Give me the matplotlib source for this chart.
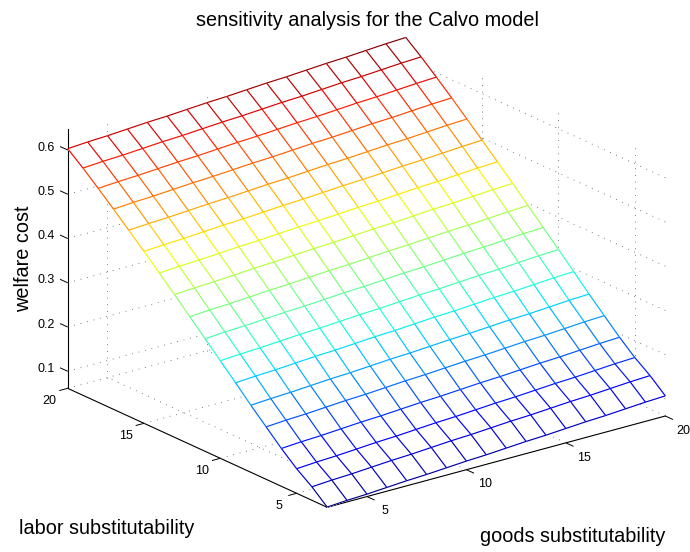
import numpy as np
import matplotlib
matplotlib.use("Agg")
import matplotlib.pyplot as plt
from mpl_toolkits.mplot3d import proj3d
from mpl_toolkits.mplot3d.art3d import Line3DCollection

plt.rcParams['font.family'] = ['Liberation Sans', 'DejaVu Sans']

goods = np.arange(3, 21)
labor = np.arange(3, 21)

# welfare cost x 1000, rows go with labor 3..20, columns with goods 3..20
welfare_milli = [
    [62, 65, 67, 70, 73, 75, 78, 81, 83, 86, 89, 91, 94, 97, 99, 102, 105, 107],
    [92, 95, 97, 100, 103, 105, 108, 111, 113, 116, 119, 121, 124, 127, 129, 132, 135, 137],
    [117, 120, 122, 125, 128, 130, 133, 136, 138, 141, 144, 146, 149, 152, 154, 157, 160, 162],
    [147, 150, 152, 155, 158, 160, 163, 166, 168, 171, 174, 176, 179, 182, 184, 187, 190, 192],
    [180, 183, 185, 188, 191, 193, 196, 199, 201, 204, 207, 209, 212, 215, 217, 220, 223, 225],
    [213, 216, 218, 221, 224, 226, 229, 232, 234, 237, 240, 242, 245, 248, 250, 253, 256, 258],
    [248, 251, 253, 256, 259, 261, 264, 267, 269, 272, 275, 277, 280, 283, 285, 288, 291, 293],
    [282, 285, 287, 290, 293, 295, 298, 301, 303, 306, 309, 311, 314, 317, 319, 322, 325, 327],
    [316, 319, 321, 324, 327, 329, 332, 335, 337, 340, 343, 345, 348, 351, 353, 356, 359, 361],
    [350, 353, 355, 358, 361, 363, 366, 369, 371, 374, 377, 379, 382, 385, 387, 390, 393, 395],
    [384, 387, 389, 392, 395, 397, 400, 403, 405, 408, 411, 413, 416, 419, 421, 424, 427, 429],
    [417, 420, 422, 425, 428, 430, 433, 436, 438, 441, 444, 446, 449, 452, 454, 457, 460, 462],
    [450, 453, 455, 458, 461, 463, 466, 469, 471, 474, 477, 479, 482, 485, 487, 490, 493, 495],
    [482, 485, 487, 490, 493, 495, 498, 501, 503, 506, 509, 511, 514, 517, 519, 522, 525, 527],
    [514, 517, 519, 522, 525, 527, 530, 533, 535, 538, 541, 543, 546, 549, 551, 554, 557, 559],
    [545, 548, 550, 553, 556, 558, 561, 564, 566, 569, 572, 574, 577, 580, 582, 585, 588, 590],
    [575, 578, 580, 583, 586, 588, 591, 594, 596, 599, 602, 604, 607, 610, 612, 615, 618, 620],
    [603, 606, 608, 611, 614, 616, 619, 622, 624, 627, 630, 632, 635, 638, 640, 643, 646, 648],
]

xy_ticks = [5, 10, 15, 20]
z_ticks = [0.1, 0.2, 0.3, 0.4, 0.5, 0.6]

X, Y = np.meshgrid(goods, labor)
Z = np.array(welfare_milli) / 1000.0
z_floor, z_top = 0.0615, 0.6475

fig = plt.figure(figsize=(6.9, 5.52), dpi=100)
ax = fig.add_axes([35.8 / 690, -51.2 / 552, 644 / 690, 644 / 552],
                  projection='3d', proj_type='ortho', computed_zorder=False)
ax.patch.set_alpha(0)
ax.set_box_aspect((1, 1, 0.65))
ax.view_init(elev=20.6, azim=-127.5)

# matlab style box: dotted grid on floor and the two back walls, drawn by hand
grid_segs = []
tick_segs = []
for t in xy_ticks:
    grid_segs.append([(t, 3, z_floor), (t, 20, z_floor)])
    grid_segs.append([(t, 20, z_floor), (t, 20, z_top)])
    grid_segs.append([(3, t, z_floor), (20, t, z_floor)])
    grid_segs.append([(20, t, z_floor), (20, t, z_top)])
    tick_segs.append([(t, 3, z_floor), (t, 2.5, z_floor)])
    tick_segs.append([(3, t, z_floor), (2.58, t, z_floor)])
for t in z_ticks:
    grid_segs.append([(3, 20, t), (20, 20, t)])
    grid_segs.append([(20, 3, t), (20, 20, t)])
    tick_segs.append([(3, 20, t), (3, 20.5, t)])
ax.add_collection3d(Line3DCollection(grid_segs, colors='#555555', linewidths=0.6,
                                     linestyles=[(0, (1, 7))], zorder=0))
ax.add_collection3d(Line3DCollection(tick_segs, colors='black', linewidths=0.7, zorder=0))

# white faces hide the grid behind the mesh
ax.plot_surface(X, Y, Z, rstride=1, cstride=1, color='white', shade=False,
                linewidth=0, antialiased=False, zorder=1)

norm = plt.Normalize(Z.min(), Z.max())
row_segs, row_vals = [], []
col_segs, col_vals = [], []
for i in range(18):
    for j in range(17):
        row_segs.append([(X[i, j], Y[i, j], Z[i, j]), (X[i, j + 1], Y[i, j + 1], Z[i, j + 1])])
        row_vals.append((Z[i, j] + Z[i, j + 1]) / 2)
        col_segs.append([(X[j, i], Y[j, i], Z[j, i]), (X[j + 1, i], Y[j + 1, i], Z[j + 1, i])])
        col_vals.append((Z[j, i] + Z[j + 1, i]) / 2)
for segs, vals in ((row_segs, row_vals), (col_segs, col_vals)):
    ax.add_collection3d(Line3DCollection(segs, colors=plt.cm.jet(norm(np.array(vals))),
                                         linewidths=0.85, zorder=2))

ax.set_xlim(3, 20)
ax.set_ylim(3, 20)
ax.set_zlim(z_floor, z_top)
ax.set_xticks([])
ax.set_yticks([])
ax.set_zticks([])

for axis in (ax.xaxis, ax.yaxis, ax.zaxis):
    axis.set_pane_color((1, 1, 1, 0))
    axis.pane.set_edgecolor((1, 1, 1, 0))
    axis.line.set_color('black')
    axis.line.set_linewidth(0.8)


def tick_label(x, y, z, label, ha='center'):
    # plain 2d text at the projected spot of a 3d point
    px, py, _ = proj3d.proj_transform(x, y, z, ax.get_proj())
    ax.text2D(px, py, label, transform=ax.transData, ha=ha, va='center', fontsize=9)


# tick labels sit a fixed step off the axes, as in the original
for t in xy_ticks:
    tick_label(t + 0.12, 1.95, z_floor - 0.018, str(t))
    tick_label(2.1, t, z_floor - 0.018, str(t))
for t in z_ticks:
    tick_label(3, 20.85, t - 0.008, '%.1f' % t, ha='right')

fig.text(367 / 690, 1 - 20 / 552, 'sensitivity analysis for the Calvo model',
         ha='center', va='center', fontsize=14.3)
fig.text(24 / 690, 1 - 259 / 552, 'welfare cost', rotation=90,
         ha='center', va='center', fontsize=14.3)
fig.text(19 / 690, 1 - 528 / 552, 'labor substitutability', ha='left', va='center', fontsize=14.3)
fig.text(480 / 690, 1 - 537 / 552, 'goods substitutability', ha='left', va='center', fontsize=14.3)

fig.savefig('out.png', dpi=100)
